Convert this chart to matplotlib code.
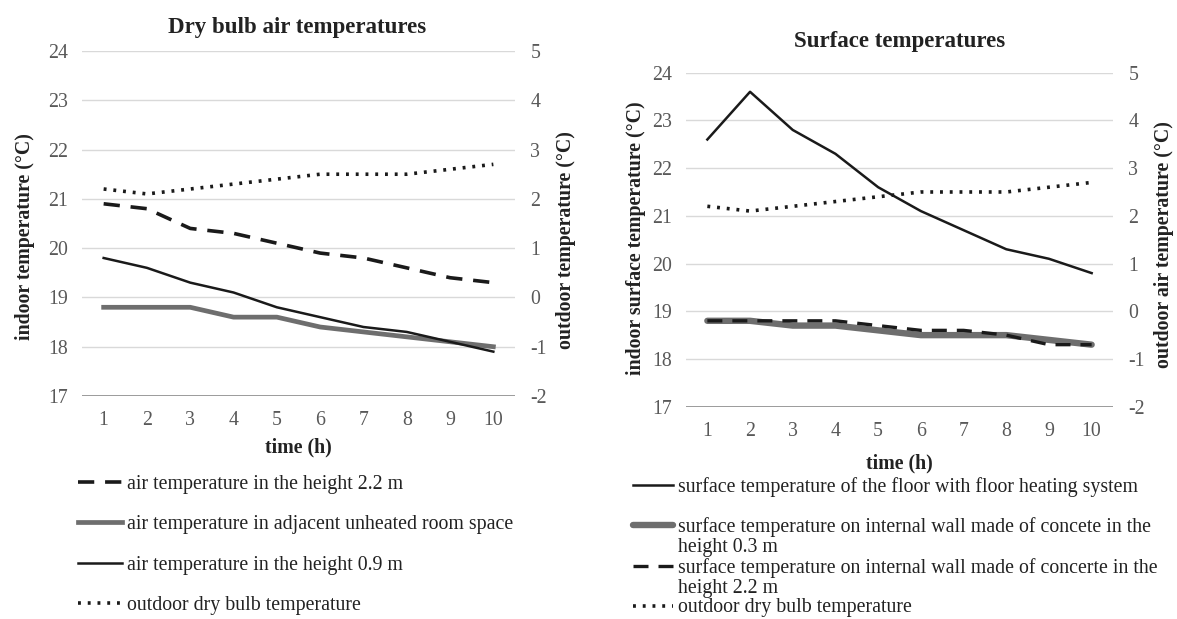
import matplotlib.pyplot as plt
from matplotlib.lines import Line2D

plt.rcParams['font.family'] = ['Liberation Serif', 'DejaVu Serif']
plt.rcParams['axes.unicode_minus'] = False

hours = list(range(1, 11))

# dry bulb air temperatures (left chart)
air_22 = [20.9, 20.8, 20.4, 20.3, 20.1, 19.9, 19.8, 19.6, 19.4, 19.3]
air_adjacent = [18.8, 18.8, 18.8, 18.6, 18.6, 18.4, 18.3, 18.2, 18.1, 18.0]
air_09 = [19.8, 19.6, 19.3, 19.1, 18.8, 18.6, 18.4, 18.3, 18.1, 17.9]
outdoor = [2.2, 2.1, 2.2, 2.3, 2.4, 2.5, 2.5, 2.5, 2.6, 2.7]

# surface temperatures (right chart)
floor_surf = [22.6, 23.6, 22.8, 22.3, 21.6, 21.1, 20.7, 20.3, 20.1, 19.8]
wall_03 = [18.8, 18.8, 18.7, 18.7, 18.6, 18.5, 18.5, 18.5, 18.4, 18.3]
wall_22 = [18.8, 18.8, 18.8, 18.8, 18.7, 18.6, 18.6, 18.5, 18.3, 18.3]

GRID = "#d9d9d9"
TICK = "#595959"
GRAY = "#6e6e6e"
FS = 14.3

W, H = 1177, 619
fig = plt.figure(figsize=(W / 100, H / 100), dpi=100)


def px_axes(x0, y0, x1, y1):
    return fig.add_axes([x0 / W, 1 - y1 / H, (x1 - x0) / W, (y1 - y0) / H])


def style(ax, ax2):
    ax.set_xlim(0.5, 10.5)
    ax.set_ylim(17, 24)
    ax2.set_ylim(-2, 5)
    ax.set_xticks(hours)
    ax.set_yticks(range(17, 25))
    ax2.set_yticks(range(-2, 6))
    ax.yaxis.grid(True, color=GRID, lw=1)
    ax.set_axisbelow(True)
    for a in (ax, ax2):
        for s in ("top", "left", "right", "bottom"):
            a.spines[s].set_visible(False)
    ax.axhline(17, color="#8c8c8c", lw=1.2, zorder=1)
    ax.tick_params(axis="both", length=0, labelsize=FS, colors=TICK)
    ax.tick_params(axis="y", pad=10)
    ax.tick_params(axis="x", pad=11)
    ax2.tick_params(axis="y", length=0, labelsize=FS, colors=TICK, pad=11)


def put_label(axis, text, x, y):
    axis.set_label_text(text, fontsize=FS, fontweight="bold", color="#222222")
    axis.set_label_coords(x, y)
    axis.label.set_ha("center")
    axis.label.set_va("center")


# ---------------- left chart ----------------
axL = px_axes(82, 51, 515, 396)
axL2 = axL.twinx()
style(axL, axL2)

l1, = axL.plot(hours, air_22, color="#1a1a1a", lw=2.6, dashes=(4.5, 3))
l2, = axL.plot(hours, air_adjacent, color=GRAY, lw=3.4)
l3, = axL.plot(hours, air_09, color="#1a1a1a", lw=1.8)
l4, = axL2.plot(hours, outdoor, color="#1a1a1a", lw=2.6, linestyle=(0, (0.8, 1.9)))

fig.text(297 / W, 1 - 27 / H, "Dry bulb air temperatures", ha="center", va="center",
         fontsize=16.5, fontweight="bold", color="#222222")
put_label(axL.yaxis, "indoor temperature (°C)", (25 - 82) / 433, (396 - 237) / 345)
put_label(axL2.yaxis, "outdoor temperature (°C)", (566 - 82) / 433, (396 - 240) / 345)
put_label(axL.xaxis, "time (h)", 0.5, -(447 - 396) / 345)

fig.legend([l1, l2, l3, l4],
           ["air temperature in the height 2.2 m",
            "air temperature in adjacent unheated room space",
            "air temperature in the height 0.9 m",
            "outdoor dry bulb temperature"],
           loc="upper left", bbox_to_anchor=(78 / W, 1 - 475 / H), frameon=False,
           fontsize=FS, handlelength=44 / (FS * 1.389), handletextpad=0.27,
           labelspacing=1.07, borderpad=0, borderaxespad=0, labelcolor="#222222")

# ---------------- right chart ----------------
axR = px_axes(686, 72.7, 1113, 406.7)
axR2 = axR.twinx()
style(axR, axR2)

r1, = axR.plot(hours, floor_surf, color="#1a1a1a", lw=1.8)
r2, = axR.plot(hours, wall_03, color=GRAY, lw=4.6, solid_capstyle="round")
r3, = axR.plot(hours, wall_22, color="#1a1a1a", lw=2.4, dashes=(4.5, 3))
r4, = axR2.plot(hours, outdoor, color="#1a1a1a", lw=2.6, linestyle=(0, (0.8, 1.9)))

fig.text(900 / W, 1 - 42 / H, "Surface temperatures", ha="center", va="center",
         fontsize=16.5, fontweight="bold", color="#222222")
put_label(axR.yaxis, "indoor surface temperature (°C)", (636 - 686) / 427, (406.7 - 238) / 334)
put_label(axR2.yaxis, "outdoor air temperature (°C)", (1164 - 686) / 427, (406.7 - 245) / 334)
put_label(axR.xaxis, "time (h)", 0.5, -(463 - 406.7) / 334)

blank = Line2D([], [], color="none")
fig.legend([r1, blank, r2, blank, r3, blank, r4],
           ["surface temperature of the floor with floor heating system",
            " ",
            "surface temperature on internal wall made of concete in the",
            "height 0.3 m",
            "surface temperature on internal wall made of concerte in the",
            "height 2.2 m",
            "outdoor dry bulb temperature"],
           loc="upper left", bbox_to_anchor=(633 / W, 1 - 477 / H), frameon=False,
           fontsize=FS, handlelength=40 / (FS * 1.389), handletextpad=0.27,
           labelspacing=0.04, borderpad=0, borderaxespad=0, labelcolor="#222222")

fig.savefig("out.png", dpi=100)
